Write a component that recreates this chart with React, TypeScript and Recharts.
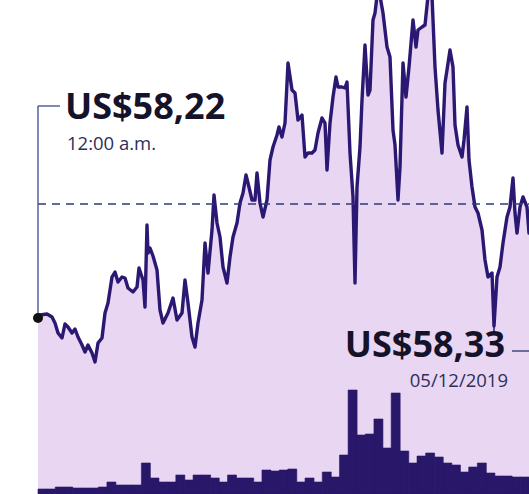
import { AreaChart, Area, BarChart, Bar, XAxis, YAxis, ReferenceLine, ReferenceDot } from 'recharts';

// intraday trace: minute offset from open, price in US$
const minutes = [
    0, 2, 9, 14, 17, 20, 24, 27, 30, 34, 37, 40, 44, 47, 50, 54, 57, 60, 64, 67,
    70, 74, 77, 80, 84, 87, 90, 95, 99, 101, 105, 107, 109, 110, 112, 115, 119, 122, 125, 130,
    135, 139, 144, 147, 150, 154, 157, 160, 164, 167, 170, 174, 176, 179, 182, 185, 189, 192, 195, 199,
    202, 205, 208, 210, 214, 217, 219, 222, 225, 229, 232, 235, 239, 241, 244, 247, 250, 254, 257, 260,
    264, 267, 270, 274, 277, 280, 284, 287, 289, 292, 295, 298, 300, 304, 307, 309, 312, 315, 317, 319,
    322, 324, 327, 330, 332, 335, 337, 339, 342, 345, 349, 352, 355, 357, 360, 362, 365, 368, 371, 375,
    378, 380, 384, 387, 390, 394, 397, 400, 404, 407, 409, 412, 415, 417, 420, 424, 426, 429, 431, 434,
    437, 440, 444, 447, 450, 454, 456, 459, 462, 465, 469, 472, 475, 477, 479, 482, 485, 489, 491, 494,
];

const prices = [
    58.22, 58.235, 58.24, 58.225, 58.195, 58.145, 58.12, 58.19, 58.175, 58.145,
    58.165, 58.125, 58.085, 58.05, 58.085, 58.045, 58.0, 58.095, 58.12, 58.245,
    58.295, 58.425, 58.45, 58.4, 58.425, 58.42, 58.37, 58.35, 58.375, 58.47,
    58.41, 58.275, 58.685, 58.545, 58.57, 58.53, 58.46, 58.26, 58.195, 58.245,
    58.32, 58.21, 58.245, 58.41, 58.295, 58.125, 58.075, 58.195, 58.31, 58.595,
    58.445, 58.66, 58.835, 58.695, 58.625, 58.475, 58.395, 58.525, 58.625, 58.695,
    58.795, 58.845, 58.935, 58.895, 58.81, 58.81, 58.945, 58.795, 58.725, 58.81,
    59.01, 59.075, 59.135, 59.175, 59.125, 59.195, 59.495, 59.36, 59.345, 59.21,
    59.235, 59.025, 59.045, 59.045, 59.06, 59.145, 59.22, 59.195, 58.96, 59.195,
    59.325, 59.425, 59.375, 59.375, 59.37, 59.4, 59.045, 58.825, 58.395, 58.875,
    59.075, 59.31, 59.585, 59.335, 59.36, 59.71, 59.745, 59.83, 59.83, 59.745,
    59.575, 59.525, 59.16, 59.085, 58.81, 58.975, 59.495, 59.325, 59.475, 59.71,
    59.575, 59.66, 59.675, 59.685, 59.83, 59.83, 59.475, 59.26, 59.045, 59.395,
    59.46, 59.56, 59.475, 59.185, 59.085, 59.025, 59.11, 59.275, 59.01, 58.875,
    58.775, 58.745, 58.66, 58.51, 58.425, 58.445, 58.18, 58.425, 58.475, 58.595,
    58.725, 58.775, 58.92, 58.745, 58.645, 58.775, 58.825, 58.775, 58.645, 58.71,
];

// traded volume per slot (thousands of contracts)
const volumes = [
    5, 5, 7, 7, 6, 6, 6, 7, 12, 9, 9, 9, 31, 16, 12, 12, 19, 14, 19, 19,
    16, 12, 19, 16, 16, 12, 24, 23, 24, 25, 12, 16, 12, 22, 17, 39, 104, 59, 60, 75,
    46, 101, 43, 31, 38, 41, 37, 31, 29, 22, 27, 31, 21, 18, 18, 17, 17,
];

const openLabel = 'US$58,22';
const openTime = '12:00 a.m.';
const lowLabel = 'US$58,33';
const lowDate = '05/12/2019';

const OPEN_PRICE = 58.22;
const REF_PRICE = 58.79;
const PRICE_DOMAIN: [number, number] = [57.34, 59.81];
const TIME_DOMAIN: [number, number] = [0, 491];

const priceData = minutes.map((m, i) => ({ m, price: prices[i] }));
const volumeData = volumes.map((v, i) => ({ slot: i, vol: v }));

const W = 529;
const H = 494;
const LINE = '#2b1872';
const FILL = '#e9d6f3';
const BAR = '#29186a';
const FONT = '"Open Sans", "DejaVu Sans", sans-serif';

export default function App() {
    return (
        <div style={{ position: 'absolute', left: 0, top: 0, width: W, height: H, overflow: 'hidden', background: '#fff' }}>
            <div style={{ position: 'absolute', left: 0, top: 0 }}>
                <AreaChart width={W} height={H} data={priceData} margin={{ top: 0, right: 0, left: 38, bottom: 0 }}>
                    <XAxis dataKey="m" type="number" domain={TIME_DOMAIN} allowDataOverflow hide />
                    <YAxis type="number" domain={PRICE_DOMAIN} allowDataOverflow hide />
                    <Area
                        type="linear"
                        dataKey="price"
                        stroke={LINE}
                        strokeWidth={3.4}
                        strokeLinejoin="round"
                        fill={FILL}
                        fillOpacity={1}
                        isAnimationActive={false}
                    />
                    <ReferenceLine y={REF_PRICE} stroke="#2f3a78" strokeWidth={1.4} strokeDasharray="8 6" />
                    <ReferenceLine
                        segment={[{ x: 0, y: OPEN_PRICE }, { x: 0, y: 59.28 }]}
                        stroke="#3d4b8c"
                        strokeWidth={1.3}
                    />
                    <ReferenceLine
                        segment={[{ x: 0, y: 59.28 }, { x: 22, y: 59.28 }]}
                        stroke="#3d4b8c"
                        strokeWidth={1.3}
                    />
                    <ReferenceLine
                        segment={[{ x: 456, y: 58.18 }, { x: 456, y: 58.145 }]}
                        stroke={LINE}
                        strokeWidth={1.5}
                    />
                    <ReferenceLine
                        segment={[{ x: 474, y: 58.055 }, { x: 491, y: 58.055 }]}
                        stroke="#2c3466"
                        strokeWidth={1.3}
                    />
                    <ReferenceDot x={0} y={OPEN_PRICE} r={5} fill="#111" stroke="none" />
                </AreaChart>
            </div>
            <div style={{ position: 'absolute', left: 0, top: 0 }}>
                <BarChart width={W} height={H} data={volumeData} margin={{ top: 0, right: 0, left: 38, bottom: 0 }} barCategoryGap={0}>
                    <XAxis dataKey="slot" hide />
                    <YAxis domain={[0, H]} hide />
                    <Bar dataKey="vol" fill={BAR} stroke={BAR} strokeWidth={0.6} isAnimationActive={false} />
                </BarChart>
            </div>
            <svg width={W} height={H} style={{ position: 'absolute', left: 0, top: 0 }}>
                <text x={65} y={119} fontFamily={FONT} fontWeight={700} fontSize={36} fill="#15122a">
                    {openLabel}
                </text>
                <text x={67} y={150} fontFamily={FONT} fontSize={18.5} fill="#2c2f5a">
                    {openTime}
                </text>
                <text x={505} y={357} textAnchor="end" fontFamily={FONT} fontWeight={700} fontSize={36} fill="#15122a">
                    {lowLabel}
                </text>
                <text x={508} y={387} textAnchor="end" fontFamily={FONT} fontSize={18.5} fill="#2c2f5a">
                    {lowDate}
                </text>
            </svg>
        </div>
    );
}
